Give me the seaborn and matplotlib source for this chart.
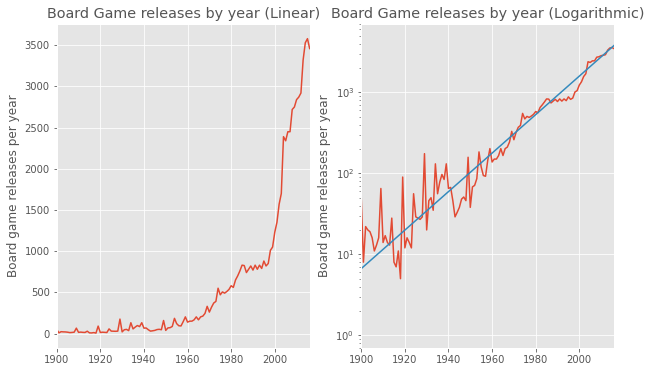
import numpy as np
import pandas as pd
import seaborn as sns
import matplotlib
matplotlib.use("Agg")
import matplotlib.pyplot as plt

# Board game releases per year
years = list(range(1900, 2017))
releases = [
    50, 8, 22, 20, 19, 16, 11, 13, 16, 65,
    14, 17, 14, 13, 28, 8, 7, 11, 5, 90,
    12, 16, 14, 12, 56, 29, 28, 27, 29, 175,
    20, 46, 50, 35, 131, 56, 78, 97, 84, 131,
    65, 67, 46, 29, 33, 38, 48, 51, 46, 158,
    38, 68, 71, 86, 184, 120, 94, 92, 144, 202,
    138, 150, 150, 166, 202, 166, 202, 211, 244, 330,
    260, 320, 370, 390, 550, 470, 505, 490, 510, 535,
    580, 560, 650, 700, 760, 830, 825, 740, 780, 820,
    770, 830, 780, 830, 790, 880, 820, 850, 1010, 1050,
    1230, 1350, 1570, 1700, 2390, 2340, 2450, 2450, 2720, 2750,
    2840, 2870, 2920, 3320, 3530, 3580, 3460,
]
assert len(years) == len(releases)

titles = ["Board Game releases by year (Linear)",
          "Board Game releases by year (Logarithmic)"]
ylabel = "Board game releases per year"

df = pd.DataFrame({"year": years, "releases": releases})

# exponential trend: straight line fitted in log space, weighted by count
coef = np.polyfit(df["year"], np.log10(df["releases"]), 1, w=df["releases"])
df["trend"] = 10 ** np.polyval(coef, df["year"])

plt.style.use("ggplot")
fig, (ax1, ax2) = plt.subplots(1, 2, figsize=(652 / 72, 374 / 72), dpi=72)

sns.lineplot(data=df, x="year", y="releases", ax=ax1, color="#E24A33", linewidth=1.5)
ax1.set_title(titles[0], color="#555555")
ax1.set_xlabel("")
ax1.set_ylabel(ylabel)
ax1.set_xlim(years[0], years[-1])

sns.lineplot(data=df, x="year", y="releases", ax=ax2, color="#E24A33", linewidth=1.5)
sns.lineplot(data=df, x="year", y="trend", ax=ax2, color="#348ABD", linewidth=1.5)
ax2.set_yscale("log")
ax2.set_title(titles[1], color="#555555")
ax2.set_xlabel("")
ax2.set_ylabel(ylabel)
ax2.set_xlim(years[0], years[-1])
ax2.set_ylim(0.7, 7000)

plt.subplots_adjust(left=0.087, right=0.942, bottom=0.07, top=0.936, wspace=0.204)
plt.savefig("out.png", dpi=72)
